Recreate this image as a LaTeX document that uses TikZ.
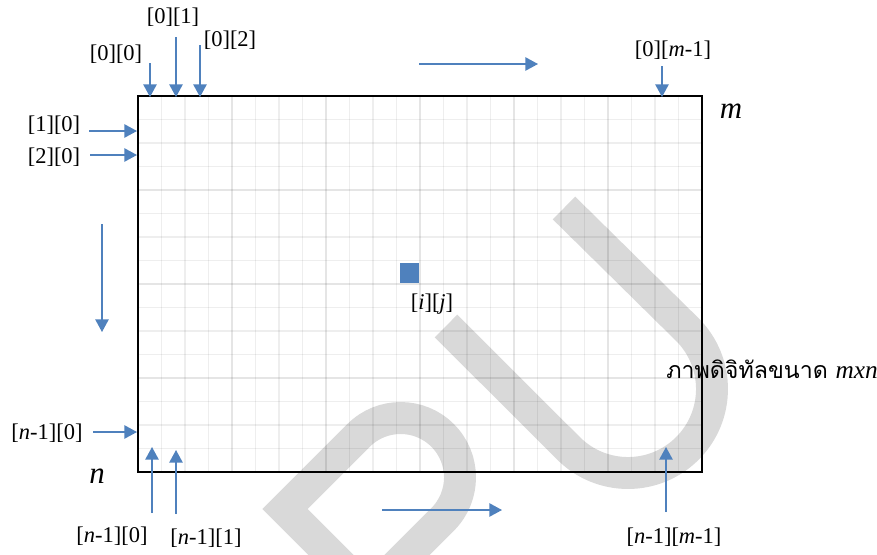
\documentclass[tikz,border=0pt]{standalone}
\usepackage{fontspec}
\setmainfont{Liberation Serif}
\newfontfamily\thaifont[Script=Thai]{Loma}
\usetikzlibrary{arrows.meta, positioning}
\definecolor{arrblue}{RGB}{79,129,189}
\definecolor{wmgray}{RGB}{217,217,217}
\tikzset{
    >={Triangle[length=9pt,width=9.5pt]}, % solid arrow heads
    idx/.style={inner sep=0pt, font=\fontsize{16}{19}\selectfont}, % cell index labels
    dimlbl/.style={inner sep=0pt, font=\fontsize{22}{26}\selectfont\itshape},
    pnt/.style={->, draw=arrblue, fill=arrblue, line width=1pt},
    gridln/.style={draw=black, opacity=0.065, line width=1.3pt},
    gridmaj/.style={draw=black, opacity=0.035, line width=1.3pt},
    wmark/.style={draw=wmgray, line width=22.7pt}
}

\begin{document}
\begin{tikzpicture}[x=0.025cm, y=-0.025cm]
    \useasboundingbox[fill=white] (0,0) rectangle (877,554);

    % watermark
    \begin{scope}
        \clip (0,0) rectangle (877,554);
        \draw[wmark] (446,326) -- (568.6,448.4) arc[start angle=135, end angle=-45, radius=84] -- (564,208);
        \draw[wmark] (350,574) -- (285,509) -- (358.6,435.4) arc[start angle=-135, end angle=45, radius=59.4] -- ++(-70,70);
    \end{scope}

    % grid of the image
    \foreach \k in {1,...,23}
        \draw[gridln] ({138+23.5*\k},96) -- ({138+23.5*\k},472);
    \foreach \k in {1,...,15}
        \draw[gridln] (138,{96+23.5*\k}) -- (702,{96+23.5*\k});
    \foreach \k in {4,8,...,20}
        \draw[gridmaj] ({138+23.5*\k},96) -- ({138+23.5*\k},472);
    \foreach \k in {4,8,12}
        \draw[gridmaj] (138,{96+23.5*\k}) -- (702,{96+23.5*\k});
    \draw[line width=1.4pt] (138,96) rectangle (702,472);

    \fill[arrblue] (400,263) rectangle (419,283);
    \node[idx] (ij) at (432,304) {[\textit{i}][\textit{j}]};

    % labels
    \node[idx] (l00) at (116,54) {[0][0]};
    \node[idx] (l01) at (173,17) {[0][1]};
    \node[idx] (l02) at (230,40) {[0][2]};
    \node[idx] (l0m) at (673,50) {[0][\textit{m}-1]};
    \node[idx] (l10) at (54,125) {[1][0]};
    \node[idx] (l20) at (54,157) {[2][0]};
    \node[idx] (ln0) at (47,433) {[\textit{n}-1][0]};
    \node[idx] (ln0b) at (112,536) {[\textit{n}-1][0]};
    \node[idx] (ln1b) at (206,538) {[\textit{n}-1][1]};
    \node[idx] (lnm) at (674,537) {[\textit{n}-1][\textit{m}-1]};
    \node[dimlbl] (mlbl) at (731,111) {m};
    \node[dimlbl] (nlbl) at (97,476) {n};
    \node[inner sep=0pt, anchor=west, font=\fontsize{16.5}{20}\selectfont] (cap) at (666,369)
        {\thaifont ภาพดิจิทัลขนาด \rmfamily\fontsize{18}{20}\selectfont\textit{mxn}};

    % arrow ends
    \coordinate (a00) at (150,63);   \coordinate (c00) at (150,97);
    \coordinate (a01) at (176,37);   \coordinate (c01) at (176,97);
    \coordinate (a02) at (200,45);   \coordinate (c02) at (200,97);
    \coordinate (a0m) at (662,66);   \coordinate (c0m) at (662,97);
    \coordinate (a10) at (89,131);   \coordinate (c10) at (137,131);
    \coordinate (a20) at (90,155);   \coordinate (c20) at (137,155);
    \coordinate (an0) at (93,432);   \coordinate (cn0) at (137,432);
    \coordinate (bn0) at (152,513);  \coordinate (dn0) at (152,447);
    \coordinate (bn1) at (176,514);  \coordinate (dn1) at (176,450);
    \coordinate (bnm) at (666,512);  \coordinate (dnm) at (666,447);
    \coordinate (rt1) at (419,64);   \coordinate (rt2) at (538,64);
    \coordinate (dw1) at (102,224);  \coordinate (dw2) at (102,332);
    \coordinate (rb1) at (382,510);  \coordinate (rb2) at (502,510);

    \draw[pnt] (a00) -- (c00);
    \draw[pnt] (a01) -- (c01);
    \draw[pnt] (a02) -- (c02);
    \draw[pnt] (a0m) -- (c0m);
    \draw[pnt] (a10) -- (c10);
    \draw[pnt] (a20) -- (c20);
    \draw[pnt] (an0) -- (cn0);
    \draw[pnt] (bn0) -- (dn0);
    \draw[pnt] (bn1) -- (dn1);
    \draw[pnt] (bnm) -- (dnm);
    \draw[pnt] (rt1) -- (rt2);
    \draw[pnt] (dw1) -- (dw2);
    \draw[pnt] (rb1) -- (rb2);
\end{tikzpicture}
\end{document}
